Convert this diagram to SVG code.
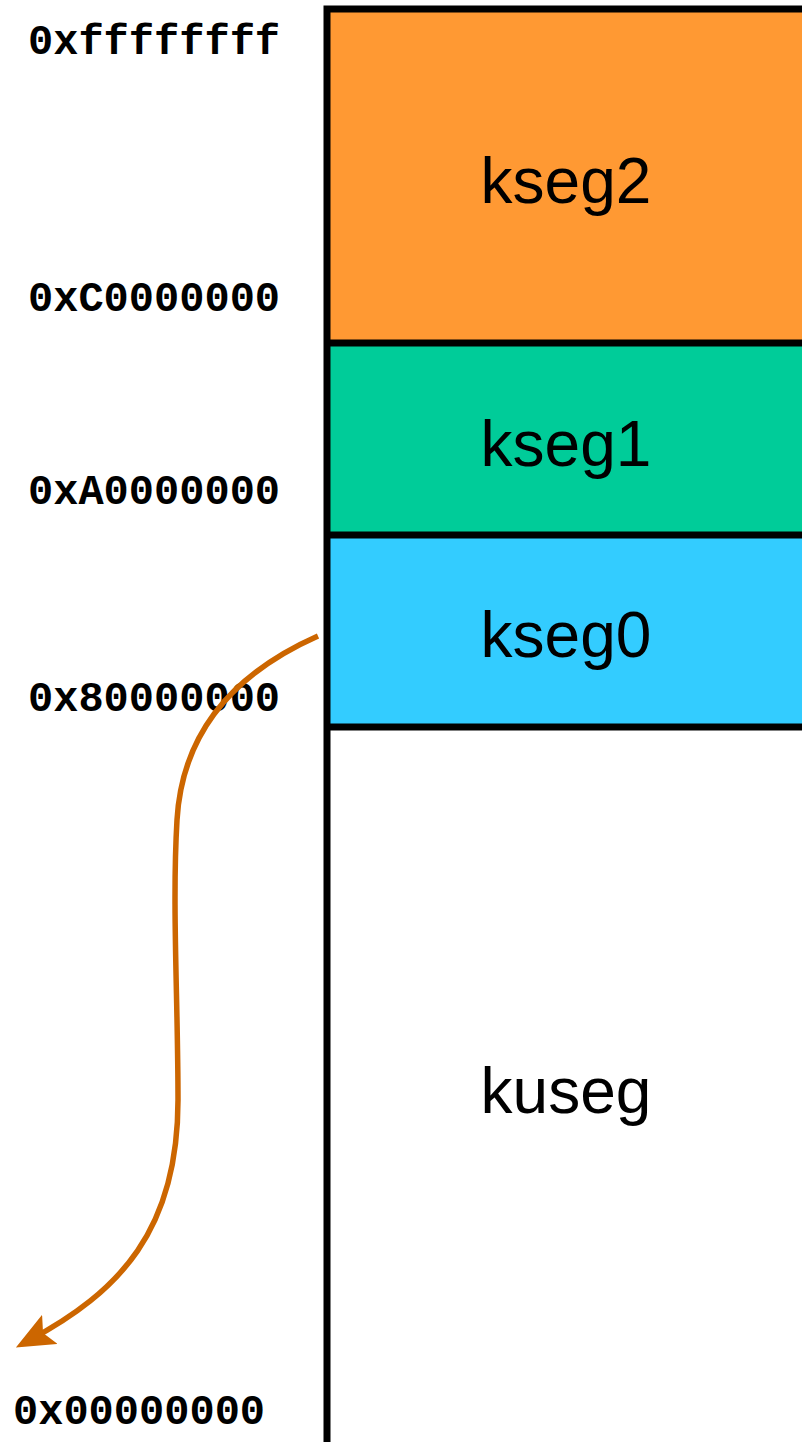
<svg xmlns="http://www.w3.org/2000/svg" width="802" height="1442" viewBox="0 0 802 1442">
<style>
.addr{font-family:"Liberation Mono","Courier New",monospace;font-weight:bold;font-size:42px;fill:#000}
.seg{font-family:"Liberation Sans",Arial,sans-serif;font-size:64px;fill:#000;text-anchor:middle}
.bd{stroke:#000;stroke-width:7;fill:none}
</style>
<defs>
<marker id="ah" markerWidth="7" markerHeight="6" refX="4.5" refY="3" orient="auto" markerUnits="strokeWidth">
<path d="M0,0 L7,3 L0,6 L1.4,3 Z" fill="#CC6600"/>
</marker>
</defs>
<rect width="802" height="1442" fill="#fff"/>
<g id="kseg2"><rect x="327" y="9" width="480" height="334" fill="#FF9933"/><text class="seg" x="566" y="203">kseg2</text></g>
<g id="kseg1"><rect x="327" y="343" width="480" height="192" fill="#00CC99"/><text class="seg" x="566" y="466">kseg1</text></g>
<g id="kseg0"><rect x="327" y="535" width="480" height="192" fill="#33CCFF"/><text class="seg" x="566" y="657">kseg0</text></g>
<g id="kuseg"><rect x="327" y="727" width="480" height="720" fill="#fff"/><text class="seg" x="566" y="1113">kuseg</text></g>
<g id="borders">
<path class="bd" d="M327,1442 V9 H806"/>
<path class="bd" d="M327,343 H806 M327,535 H806 M327,727 H806"/>
</g>
<g id="labels">
<text class="addr" x="28" y="54">0xffffffff</text>
<text class="addr" x="28" y="311">0xC0000000</text>
<text class="addr" x="28" y="504">0xA0000000</text>
<text class="addr" x="28" y="711">0x80000000</text>
<text class="addr" x="13" y="1424">0x00000000</text>
</g>
<g id="connectors">
<path d="M318,636 C230,675 182,735 177,820 C172,905 178,1000 178,1100 C178,1230 120,1292 28,1341" fill="none" stroke="#CC6600" stroke-width="5.5" marker-end="url(#ah)"/>
</g>
</svg>
